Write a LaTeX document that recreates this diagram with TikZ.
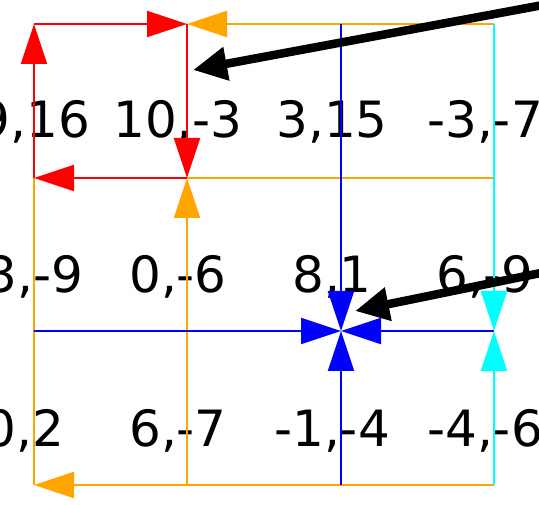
\documentclass[tikz,border=0pt]{standalone}
\usepackage{fontspec}
\setmainfont{DejaVu Sans}
\usetikzlibrary{arrows.meta}
\definecolor{amber}{RGB}{255,165,0}
\definecolor{aqua}{RGB}{0,255,255}

\begin{document}
\begin{tikzpicture}[x=1pt, y=-1pt, line width=2pt,
    head/.style={-{Triangle[length=40pt, width=26pt]}},
    pointer/.style={black, line width=8.5pt, -{Triangle[length=34pt, width=32pt]}},
    payoff/.style={font=\fontsize{50}{60}\selectfont, inner sep=0pt, anchor=base}]
  \useasboundingbox (0,0) rectangle (539,505);

  % Grid points
  \foreach \r/\y in {1/24, 2/178, 3/331, 4/485}
    \foreach \c/\x in {1/34, 2/187, 3/341, 4/494}
      \coordinate (g\r\c) at (\x,\y);

  % Payoffs
  \node[payoff, anchor=base east] (p11) at (91,138) {9,16};
  \node[payoff] (p12) at (178,138) {10,-3};
  \node[payoff] (p13) at (332,138) {3,15};
  \node[payoff] (p14) at (485,138) {-3,-7};
  \node[payoff, anchor=base east] (p21) at (84,293) {3,-9};
  \node[payoff] (p22) at (178,293) {0,-6};
  \node[payoff] (p23) at (332,293) {8,1};
  \node[payoff] (p24) at (485,293) {6,-9};
  \node[payoff, anchor=base east] (p31) at (65,447) {0,2};
  \node[payoff] (p32) at (178,447) {6,-7};
  \node[payoff] (p33) at (332,447) {-1,-4};
  \node[payoff] (p34) at (485,447) {-4,-6};

  % Orange
  \draw[amber, head] (g14) -- (g12);
  \draw[amber] (g22) -- (g24);
  \draw[amber] (g21) -- (g41);
  \draw[amber, head] (g44) -- (g41);
  \draw[amber, head] (g32) -- (g22);
  \draw[amber] (g42) -- (g32);

  % Blue
  \draw[blue, head] (g31) -- (g33);
  \draw[blue, head] (g34) -- (g33);
  \draw[blue, head] (g13) -- (g33);
  \draw[blue, head] (g43) -- (g33);

  % Cyan
  \draw[aqua, head] (g14) -- (g34);
  \draw[aqua, head] (g44) -- (g34);

  % Red cycle
  \draw[red, head] (g21) -- (g11);
  \draw[red, head] (g11) -- (g12);
  \draw[red, head] (g12) -- (g22);
  \draw[red, head] (g22) -- (g21);

  % Pointers
  \coordinate (from1) at (570,0);
  \coordinate (to1) at (193,70);
  \coordinate (from2) at (570,267);
  \coordinate (to2) at (355,311);
  \draw[pointer] (from1) -- (to1);
  \draw[pointer] (from2) -- (to2);
\end{tikzpicture}
\end{document}
